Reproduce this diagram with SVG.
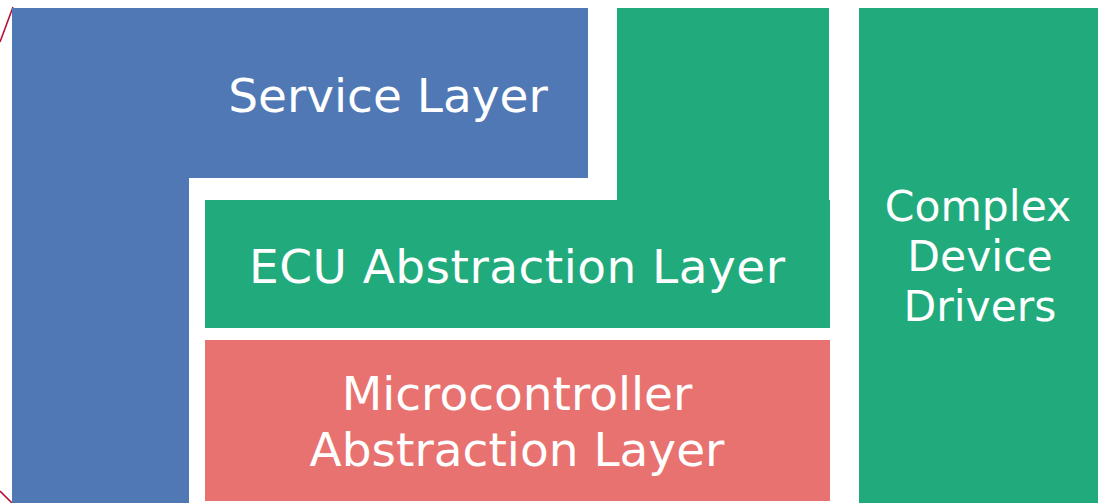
<svg xmlns="http://www.w3.org/2000/svg" width="1103" height="503" viewBox="0 0 1103 503">
<style>
.t{fill:#ffffff;font-family:"DejaVu Sans",Verdana,sans-serif;font-size:47px;text-anchor:middle}
.s{font-size:42.5px}
.edge{stroke:#b8103a;stroke-width:1.6;fill:none}
</style>
<rect width="1103" height="503" fill="#ffffff"/>
<g id="connectors">
<line class="edge" x1="13" y1="7" x2="0" y2="42"/>
<line class="edge" x1="0" y1="491" x2="12" y2="503"/>
</g>
<g id="service">
<path d="M12,8 H588 V178 H189 V503 H12 Z" fill="#4f78b5"/>
<text class="t" x="388" y="112">Service Layer</text>
</g>
<g id="ecu">
<path d="M617,8 H829 V200 H830 V328 H205 V200 H617 Z" fill="#21ab7c"/>
<text class="t" x="517" y="283" textLength="536">ECU Abstraction Layer</text>
</g>
<g id="mcal">
<rect x="205" y="340" width="625" height="161" fill="#e87270"/>
<text class="t" x="517" y="410">Microcontroller</text>
<text class="t" x="517" y="466">Abstraction Layer</text>
</g>
<g id="cdd">
<rect x="859" y="8" width="239" height="495" fill="#21ab7c"/>
<text class="t s" x="978" y="221">Complex</text>
<text class="t s" x="980" y="271">Device</text>
<text class="t s" x="980" y="321">Drivers</text>
</g>
</svg>
